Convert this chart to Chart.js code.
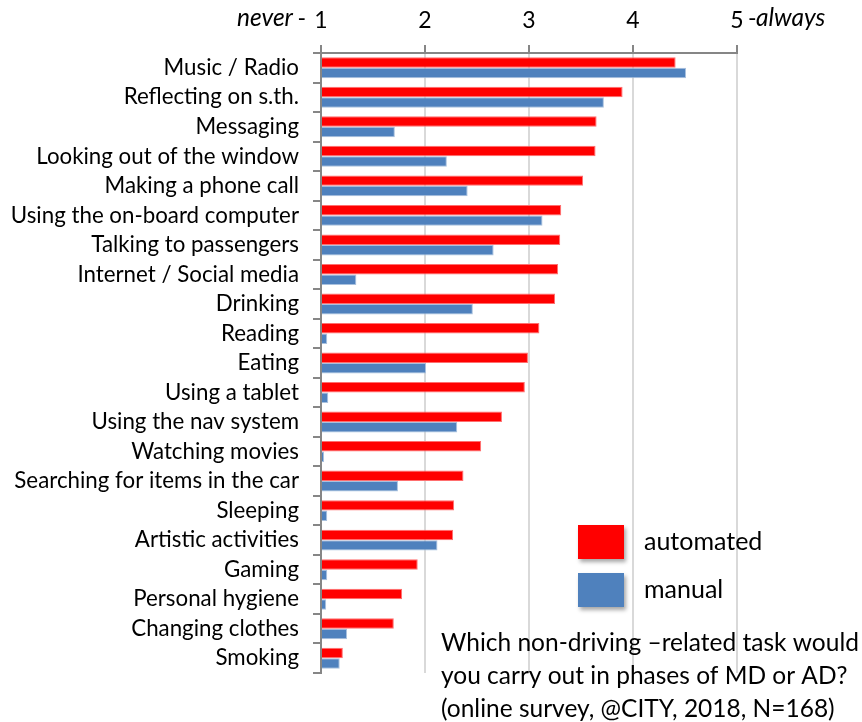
<!DOCTYPE html>
<html>
<head>
<meta charset="utf-8">
<script src="https://cdn.jsdelivr.net/npm/chart.js@4.4.0/dist/chart.umd.min.js"></script>
<style>
  html, body { margin: 0; padding: 0; background: #fff; }
  #wrap { width: 862px; height: 722px; position: relative; }
</style>
</head>
<body>
<div id="wrap"><canvas id="c" width="862" height="722"></canvas></div>
<script>
const categories = [
  "Music / Radio", "Reflecting on s.th.", "Messaging", "Looking out of the window",
  "Making a phone call", "Using the on-board computer", "Talking to passengers",
  "Internet / Social media", "Drinking", "Reading", "Eating", "Using a tablet",
  "Using the nav system", "Watching movies", "Searching for items in the car",
  "Sleeping", "Artistic activities", "Gaming", "Personal hygiene",
  "Changing clothes", "Smoking"
];
const automated = [4.41, 3.90, 3.65, 3.64, 3.52, 3.31, 3.30, 3.28, 3.25, 3.10, 2.99, 2.96, 2.74, 2.54, 2.37, 2.28, 2.27, 1.93, 1.78, 1.70, 1.21];
const manual    = [4.51, 3.72, 1.71, 2.21, 2.41, 3.13, 2.66, 1.34, 2.46, 1.06, 2.01, 1.07, 2.31, 1.03, 1.74, 1.06, 2.12, 1.06, 1.05, 1.25, 1.18];
const seriesNames = ["automated", "manual"];
const xTickValues = [1, 2, 3, 4, 5];
const scaleEndLabels = ["never", "always"];
const annotationLines = [
  "Which non-driving \u2013related task would",
  "you carry out in phases of MD or AD?",
  "(online survey, @CITY, 2018, N=168)"
];

const FONT = "Lato";
const RED = "#FF0000";
const BLUE = "#4F81BD";

const overlay = {
  id: "overlay",
  afterDraw(chart) {
    const ctx = chart.ctx;
    const xs = chart.scales.x;
    ctx.save();
    // scale end labels
    ctx.fillStyle = "#000";
    ctx.textBaseline = "alphabetic";
    const ty = 26;
    const x1 = xs.getPixelForValue(xTickValues[0]);
    const x5 = xs.getPixelForValue(xTickValues[xTickValues.length - 1]);
    ctx.font = "23px " + FONT;
    ctx.textAlign = "right";
    ctx.fillText("-", x1 - 15, ty);
    ctx.font = "italic 24.5px " + FONT;
    ctx.fillText(scaleEndLabels[0], x1 - 28, ty);
    ctx.font = "23px " + FONT;
    ctx.textAlign = "left";
    ctx.fillText("-", x5 + 11, ty);
    ctx.font = "italic 24.5px " + FONT;
    ctx.fillText(scaleEndLabels[1], x5 + 19, ty);

    // legend
    const ds = chart.data.datasets;
    const lx = 578, lys = [525, 573], lw = 46, lh = 34;
    ds.forEach((d, i) => {
      ctx.save();
      ctx.shadowColor = "rgba(0,0,0,0.35)";
      ctx.shadowBlur = 4;
      ctx.shadowOffsetX = 2;
      ctx.shadowOffsetY = 3;
      ctx.fillStyle = d.backgroundColor;
      ctx.fillRect(lx, lys[i], lw, lh);
      ctx.restore();
      ctx.fillStyle = "#000";
      ctx.font = "25px " + FONT;
      ctx.textAlign = "left";
      ctx.textBaseline = "middle";
      ctx.fillText(d.label, 644, lys[i] + lh / 2);
    });

    // annotation
    ctx.font = "24.5px " + FONT;
    ctx.textAlign = "left";
    ctx.textBaseline = "alphabetic";
    annotationLines.forEach((t, i) => {
      ctx.fillText(t, 441, 651 + i * 33);
    });
    ctx.restore();
  }
};

new Chart(document.getElementById("c"), {
  type: "bar",
  data: {
    labels: categories,
    datasets: [
      { label: seriesNames[0], data: automated, backgroundColor: RED, borderColor: "#ff6f6f", borderWidth: 1, borderSkipped: "start" },
      { label: seriesNames[1], data: manual, backgroundColor: BLUE, borderColor: "#a9c1de", borderWidth: 1, borderSkipped: "start" }
    ]
  },
  options: {
    indexAxis: "y",
    responsive: false,
    animation: false,
    devicePixelRatio: 1,
    base: 1,
    categoryPercentage: 0.71,
    barPercentage: 1.0,
    layout: { padding: { left: 0, top: 0, right: 125, bottom: 49 } },
    plugins: { legend: { display: false }, tooltip: { enabled: false } },
    scales: {
      x: {
        position: "top",
        min: 1,
        max: 5,
        afterBuildTicks(scale) { scale.ticks = xTickValues.map(v => ({ value: v })); },
        afterFit(scale) { scale.height = 53; },
        ticks: { color: "#000", font: { family: FONT, size: 23 }, padding: 11, maxRotation: 0 },
        grid: { color: "#d9d9d9", lineWidth: 2, tickColor: "#868686", tickLength: 8, tickWidth: 2 },
        border: { color: "#868686", width: 2 }
      },
      y: {
        afterFit(scale) { scale.width = 321; },
        ticks: { color: "#000", font: { family: FONT, size: 22.3 }, padding: 14, autoSkip: false },
        grid: { offset: true, drawOnChartArea: false, color: "#868686", lineWidth: 2, tickLength: 8 },
        border: { color: "#868686", width: 2 }
      }
    }
  },
  plugins: [overlay]
});
</script>
</body>
</html>
